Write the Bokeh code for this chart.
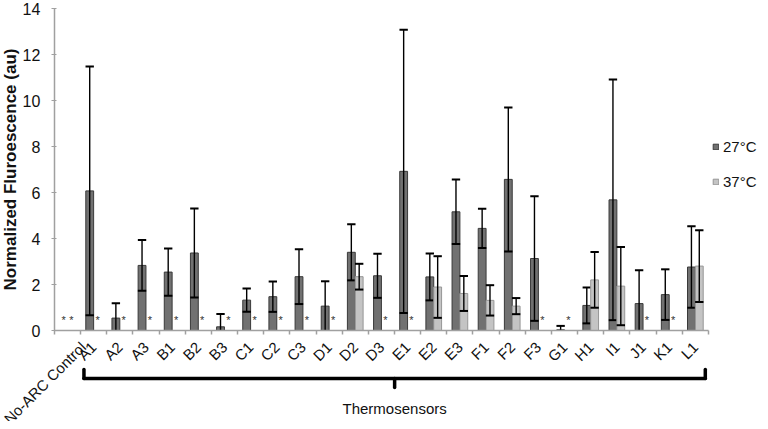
import math
from bokeh.plotting import figure
from bokeh.models import (ColumnDataSource, Range1d, Legend, LegendItem, FixedTicker)
from bokeh.core.properties import value
from bokeh.embed import file_html
from bokeh.resources import INLINE

# ---------------- data ----------------
categories = ["No-ARC Control", "A1", "A2", "A3", "B1", "B2", "B3", "C1", "C2", "C3",
              "D1", "D2", "D3", "E1", "E2", "E3", "F1", "F2", "F3", "G1",
              "H1", "I1", "J1", "K1", "L1"]
series_names = ["27°C", "37°C"]
val_27 = [0, 6.07, 0.54, 2.83, 2.54, 3.37, 0.16, 1.32, 1.47, 2.34,
          1.06, 3.40, 2.38, 6.92, 2.33, 5.16, 4.44, 6.57, 3.13, 0.03,
          1.09, 5.68, 1.17, 1.56, 2.76]
err_27 = [0, 5.41, 0.64, 1.10, 1.03, 1.93, 0.56, 0.51, 0.66, 1.19,
          1.08, 1.22, 0.96, 6.16, 1.02, 1.40, 0.85, 3.13, 2.71, 0.17,
          0.78, 5.23, 1.45, 1.10, 1.77]
val_37 = [0, 0, 0, 0, 0, 0, 0, 0, 0, 0,
          0, 2.34, 0, 0, 1.89, 1.61, 1.31, 1.06, 0, 0,
          2.20, 1.93, 0, 0, 2.80]
err_37 = [0, 0, 0, 0, 0, 0, 0, 0, 0, 0,
          0, 0.56, 0, 0, 1.34, 0.76, 0.66, 0.35, 0, 0,
          1.21, 1.70, 0, 0, 1.56]
y_ticks = [0, 2, 4, 6, 8, 10, 12, 14]
group_label = "Thermosensors"
group_first, group_last = "A1", "L1"

# ---------------- layout / styling ----------------
FONT = "Liberation Sans"
fills = ["#717171", "#c4c4c4"]
edges = ["#3a3a3a", "#969696"]
offsets = [-0.15, 0.15]
BAR_W = 0.30
CAP_HALF = 0.16
PX = 23.0          # pixels per y unit
W, H = 760, 421

n = len(categories)
y_max = max(y_ticks)
p = figure(x_range=Range1d(-2.06, 26.99),
           y_range=Range1d(-91 / PX, y_max + 8 / PX),
           width=W, height=H, output_backend="svg", toolbar_location=None,
           min_border=0, min_border_left=0, min_border_right=0,
           min_border_top=0, min_border_bottom=0)
p.outline_line_color = None
p.xgrid.grid_line_color = None
p.ygrid.grid_line_color = None
p.background_fill_color = "white"
p.border_fill_color = "white"

centers = [i + 0.5 for i in range(n)]

bar_renderers = []
for name, vals, errs, off, fc, ec in zip(series_names, [val_27, val_37], [err_27, err_37],
                                        offsets, fills, edges):
    bars = dict(x=[], top=[], lo=[], hi=[], c0=[], c1=[])
    caps_lo = dict(y=[], c0=[], c1=[])
    stars = dict(x=[], y=[], t=[])
    for cx, v, e in zip(centers, vals, errs):
        bx = cx + off
        if v > 0:
            bars["x"].append(bx)
            bars["top"].append(v)
            bars["lo"].append(max(v - e, 0))
            bars["hi"].append(v + e)
            bars["c0"].append(bx - CAP_HALF)
            bars["c1"].append(bx + CAP_HALF)
            if v - e > 0:
                caps_lo["y"].append(v - e)
                caps_lo["c0"].append(bx - CAP_HALF)
                caps_lo["c1"].append(bx + CAP_HALF)
        else:
            stars["x"].append(bx)
            stars["y"].append(0)
            stars["t"].append("*")
    src = ColumnDataSource(bars)
    r = p.vbar(x="x", top="top", width=BAR_W, source=src,
               fill_color=fc, line_color=ec, line_width=1)
    bar_renderers.append(r)
    p.segment(x0="x", y0="lo", x1="x", y1="hi",
              source=src, line_color="black", line_width=1.4)
    p.segment(x0="c0", y0="hi", x1="c1", y1="hi",
              source=src, line_color="black", line_width=2)
    p.segment(x0="c0", y0="y", x1="c1", y1="y",
              source=ColumnDataSource(caps_lo), line_color="black", line_width=2)
    p.text(x="x", y="y", text="t", source=ColumnDataSource(stars),
           text_font=value(FONT), text_font_size="11px", text_align="center",
           text_baseline="alphabetic", y_offset=-11, text_color="#333333")

# ---------------- axes ----------------
AXIS_COLOR = "#a0a0a0"
yax = p.yaxis[0]
yax.fixed_location = 0
yax.bounds = (0, y_max)
yax.ticker = FixedTicker(ticks=y_ticks)
yax.axis_label = "Normalized Fluroescence (au)"
yax.axis_label_text_font = FONT
yax.axis_label_text_font_style = "bold"
yax.axis_label_text_font_size = "17px"
yax.axis_label_text_color = "#111111"
yax.axis_label_standoff = 0
yax.major_label_text_font = FONT
yax.major_label_text_font_size = "16px"
yax.major_label_text_color = "#111111"
yax.major_label_standoff = 11
yax.major_tick_out = 3
yax.major_tick_in = 2
yax.minor_tick_line_color = None
yax.axis_line_color = AXIS_COLOR
yax.major_tick_line_color = AXIS_COLOR
yax.axis_line_width = 1.5

xax = p.xaxis[0]
xax.fixed_location = 0
xax.bounds = (0, n)
xax.ticker = FixedTicker(ticks=centers, minor_ticks=list(range(n + 1)))
xax.major_label_overrides = {c: lab for c, lab in zip(centers, categories)}
xax.major_label_orientation = math.pi / 4
xax.major_label_text_font = FONT
xax.major_label_text_font_size = "15px"
xax.major_label_text_color = "#111111"
xax.major_label_standoff = 10
xax.major_tick_out = 0
xax.major_tick_in = 0
xax.minor_tick_out = 4
xax.minor_tick_in = 0
xax.minor_tick_line_color = AXIS_COLOR
xax.minor_tick_line_width = 1.5
xax.axis_line_color = AXIS_COLOR
xax.axis_line_width = 1.5

# ---------------- bracket + group label ----------------
left = categories.index(group_first) + 0.13
right = categories.index(group_last) + 1 - 0.12
mid = (left + right) / 2
yb = -48 / PX
hook = 9 / PX
p.segment(x0=[left, left, right, mid], y0=[yb, yb, yb, yb],
          x1=[right, left, right, mid], y1=[yb, yb + hook, yb + hook, yb - hook],
          line_color="black", line_width=3.5, line_cap="round")
p.text(x=[mid], y=[-78 / PX], text=[group_label], text_align="center",
       text_baseline="alphabetic", text_font=value(FONT), text_font_size="15px",
       text_color="#111111")

# ---------------- legend ----------------
legend = Legend(items=[LegendItem(label=n_, renderers=[r]) for n_, r in zip(series_names, bar_renderers)],
                location=(712, 230), orientation="vertical", padding=0, margin=0,
                spacing=15, glyph_width=7, glyph_height=7, label_standoff=4,
                label_height=20, label_text_font=FONT, label_text_font_size="15px",
                label_text_color="#111111", border_line_alpha=0, background_fill_alpha=0)
p.add_layout(legend)

open("out.html", "w").write(file_html(p, INLINE))
